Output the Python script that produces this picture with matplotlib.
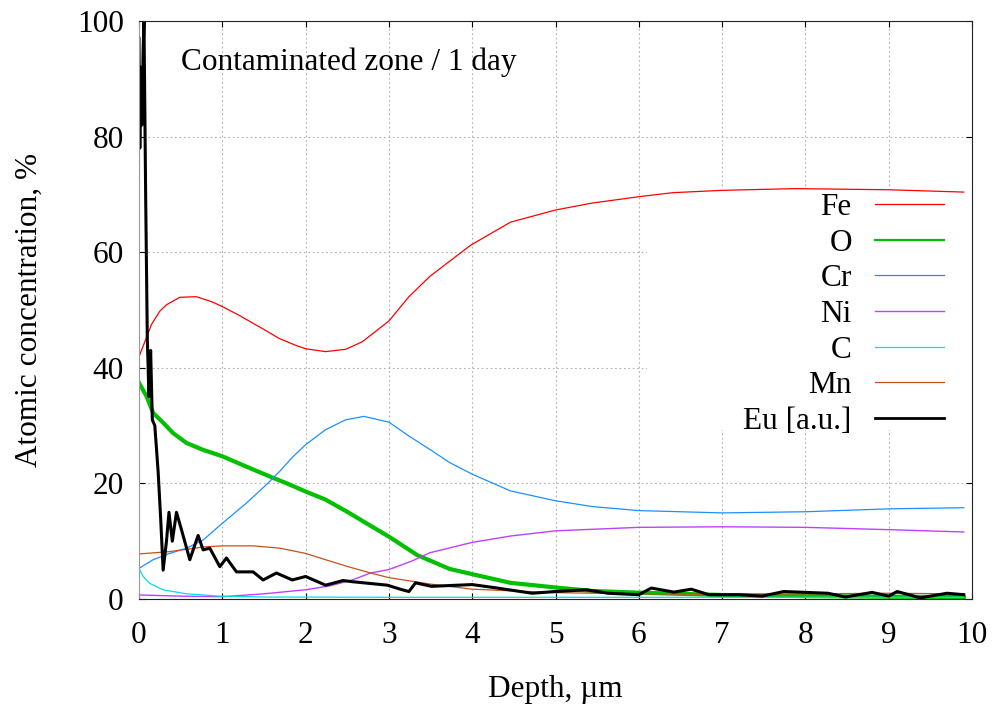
import numpy as np
import matplotlib
matplotlib.use('Agg')
import matplotlib.pyplot as plt
from matplotlib.patches import Rectangle
from matplotlib.lines import Line2D

plt.rcParams.update({'font.family': ['Liberation Serif', 'DejaVu Serif'],
                     'font.size': 22.5})

# depth (um) / atomic concentration (%)
depth_fe = [0, 0.07, 0.15, 0.25, 0.33, 0.49, 0.69, 0.88, 1.0, 1.2, 1.48, 1.68, 1.88, 2.0,
            2.24, 2.48, 2.68, 3.0, 3.24, 3.49, 3.98, 4.46, 5.0, 5.44, 6.0, 6.41, 7.0, 7.88,
            9.0, 9.9]
fe = [41.9, 44.5, 47.5, 49.8, 50.9, 52.2, 52.3, 51.4, 50.6, 49.1, 46.8, 45.1, 43.9, 43.3,
      42.8, 43.2, 44.5, 48.1, 52.3, 55.8, 61.2, 65.2, 67.3, 68.5, 69.6, 70.3, 70.7, 71.0,
      70.8, 70.4]

depth_o = [0, 0.09, 0.17, 0.29, 0.41, 0.57, 0.77, 1.0, 1.29, 1.57, 1.76, 2.0, 2.24, 2.51,
           2.8, 3.0, 3.34, 3.73, 4.0, 4.46, 5.0, 5.44, 6.0, 7.0, 8.0, 9.0, 9.9]
o = [37.4, 35.1, 32.2, 30.5, 28.7, 27.0, 25.8, 24.7, 22.9, 21.2, 20.1, 18.6, 17.2, 15.0,
     12.5, 10.8, 7.6, 5.2, 4.3, 2.8, 2.0, 1.4, 1.1, 0.7, 0.5, 0.4, 0.35]

depth_cr = [0, 0.17, 0.37, 0.57, 0.77, 1.0, 1.29, 1.53, 1.69, 1.84, 2.0, 2.24, 2.48, 2.7,
            3.0, 3.24, 3.49, 3.73, 4.0, 4.46, 5.0, 5.44, 6.0, 7.0, 8.0, 9.0, 9.9]
cr = [5.3, 6.8, 7.9, 8.8, 10.2, 13.1, 16.6, 19.8, 22.1, 24.5, 26.7, 29.3, 31.0, 31.6,
      30.6, 28.2, 25.9, 23.6, 21.6, 18.7, 17.0, 16.0, 15.3, 14.9, 15.1, 15.6, 15.8]

depth_ni = [0, 0.5, 1.0, 1.5, 2.0, 2.3, 2.56, 2.78, 3.0, 3.28, 3.49, 4.0, 4.46, 5.0,
            6.0, 7.0, 8.0, 9.0, 9.9]
ni = [0.7, 0.5, 0.4, 0.9, 1.6, 2.3, 3.3, 4.5, 5.1, 6.6, 8.0, 9.8, 10.9, 11.8,
      12.4, 12.5, 12.4, 12.0, 11.6]

depth_c = [0, 0.05, 0.13, 0.29, 0.57, 0.97, 1.5, 3.0, 5.0, 7.0, 9.9]
c = [5.3, 3.9, 2.7, 1.6, 0.9, 0.5, 0.35, 0.3, 0.3, 0.3, 0.3]

depth_mn = [0, 0.37, 0.77, 1.0, 1.37, 1.69, 2.0, 2.24, 2.51, 2.78, 3.0, 3.49, 4.0, 5.0,
            6.0, 7.0, 8.0, 9.0, 9.9]
mn = [7.8, 8.2, 9.0, 9.2, 9.2, 8.8, 7.9, 6.8, 5.6, 4.5, 3.7, 2.6, 1.7, 1.1,
      0.9, 0.8, 0.9, 1.0, 0.9]

depth_eu = [0, 0.01, 0.02, 0.035, 0.05, 0.06, 0.08, 0.1, 0.12, 0.14, 0.16, 0.19, 0.23,
            0.26, 0.29, 0.33, 0.36, 0.40, 0.45, 0.51, 0.61, 0.71, 0.77, 0.85, 0.97, 1.05,
            1.17, 1.37, 1.49, 1.65, 1.84, 2.0, 2.24, 2.45, 2.56, 2.98, 3.16, 3.24, 3.32,
            3.51, 4.0, 4.3, 4.72, 5.0, 5.37, 5.63, 6.0, 6.15, 6.42, 6.63, 6.84, 7.2, 7.48,
            7.74, 8.27, 8.48, 8.8, 9.0, 9.1, 9.38, 9.7, 9.9]
eu = [97, 78, 92, 82, 95, 100, 70, 45, 35, 43, 31, 30, 22,
      14, 5, 10, 15, 10, 15, 12, 6.8, 11, 8.5, 8.8, 5.6, 7.1,
      4.7, 4.7, 3.3, 4.5, 3.3, 3.9, 2.4, 3.2, 3.0, 2.4, 1.6, 1.3, 2.8,
      2.2, 2.5, 1.9, 1.0, 1.3, 1.6, 1.0, 0.75, 1.9, 1.2, 1.7, 0.75, 0.75, 0.5,
      1.3, 1.0, 0.35, 1.15, 0.5, 1.3, 0.2, 1.0, 0.75]

labels = ['Fe', 'O', 'Cr', 'Ni', 'C', 'Mn', 'Eu [a.u.]']
colors = ['#ff0000', '#00c000', '#1e8fff', '#c040ff', '#00e0e0', '#c8501a', 'black']
widths = [0.9, 3.0, 0.9, 1.0, 0.9, 0.9, 2.2]
series = [(depth_fe, fe), (depth_o, o), (depth_cr, cr), (depth_ni, ni),
          (depth_c, c), (depth_mn, mn), (depth_eu, eu)]

fig = plt.figure(figsize=(9.97, 7.04), dpi=100)
ax = fig.add_axes([0.1394, 0.1491, 0.8356, 0.8211])
ax.set_xlim(0, 10)
ax.set_ylim(0, 100)
ax.set_xticks(range(0, 11))
ax.set_yticks(range(0, 101, 20))
ax.grid(True, color='#b0b0b0', linestyle=(0, (1.5, 2.5)), linewidth=0.8)
ax.set_axisbelow(True)
ax.tick_params(direction='in', length=4, width=0.8, top=True, right=True)
ax.tick_params(axis='x', pad=16)
ax.tick_params(axis='y', pad=11)
for s in ax.spines.values():
    s.set_color('#222222')
ax.spines['left'].set_color('#999999')

# opaque key area
ax.add_patch(Rectangle((0.61, 0.292), 0.39, 0.42, transform=ax.transAxes,
                       facecolor='white', edgecolor='none', zorder=1))

# draw in gnuplot order, Eu last on top
for (x, y), col, lw in zip(series, colors, widths):
    ax.plot(x, y, color=col, linewidth=lw, zorder=2)

handles = [Line2D([], [], color=col, linewidth=min(lw, 2.0)) for col, lw in zip(colors, widths)]
handles[1].set_linewidth(1.6)
ax.legend(handles, labels, loc='upper right', bbox_to_anchor=(0.985, 0.729),
          frameon=False, markerfirst=False, handlelength=2.2, handletextpad=0.75,
          labelspacing=0.21, borderpad=0)

ax.text(0.05, 0.929, 'Contaminated zone / 1 day', transform=ax.transAxes,
        ha='left', va='center')
ax.set_xlabel('Depth, µm', labelpad=18)
ax.set_ylabel('Atomic concentration, %', labelpad=24)

fig.savefig('out.png', dpi=100)
